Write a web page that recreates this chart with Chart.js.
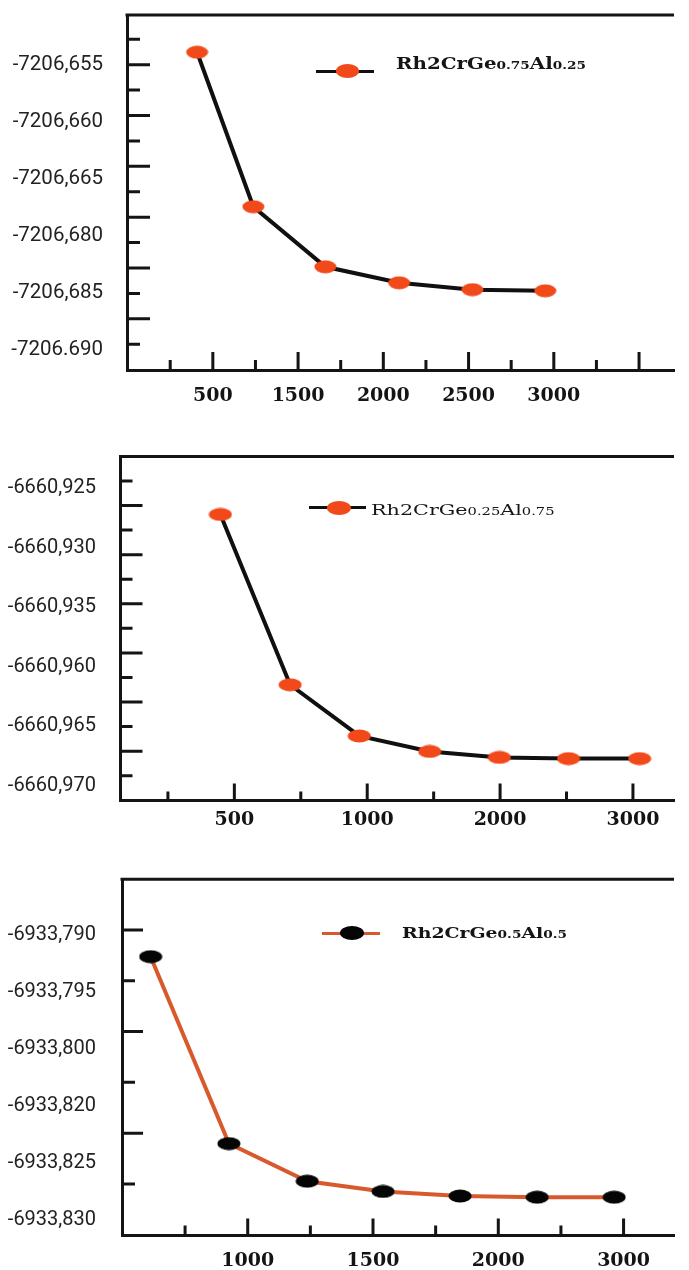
<!DOCTYPE html>
<html>
<head>
<meta charset="utf-8">
<title>Total energy convergence</title>
<script src="https://cdn.jsdelivr.net/npm/chart.js@4.4.1/dist/chart.umd.min.js"></script>
<style>
  html, body { margin: 0; padding: 0; background: #fff; }
  body { width: 689px; height: 1270px; position: relative; overflow: hidden; }
  .panel { position: absolute; left: 0; }
  .panel canvas { display: block; }
  .key { position: absolute; }
  .key .line { position: absolute; left: 0; right: 0; }
  .key .dot { position: absolute; border-radius: 50%; }
  .name { position: absolute; white-space: nowrap; line-height: 1; color: #151515;
          font-family: 'DejaVu Serif', serif; transform-origin: 0 0; }
</style>
</head>
<body>
<div class="panel" style="top:0px"><canvas id="c1" width="689" height="420"></canvas></div>
<div class="panel" style="top:430px"><canvas id="c2" width="689" height="410"></canvas></div>
<div class="panel" style="top:840px"><canvas id="c3" width="689" height="430"></canvas></div>

<script>
// ---------- data ----------
// Rh2CrGe0.75Al0.25
const p1Name = ['Rh2CrGe', '0.75', 'Al', '0.25'];
const p1YLabels = ['-7206,655', '-7206,660', '-7206,665', '-7206,680', '-7206,685', '-7206.690'];
const p1XLabels = ['500', '1500', '2000', '2500', '3000'];
const p1Pos = [0.63, 1.95, 3.64, 5.37, 7.09, 8.80];
const p1Energy = [-7206.6539, -7206.6723, -7206.6827, -7206.6841, -7206.6847, -7206.6848];

// Rh2CrGe0.25Al0.75
const p2Name = ['Rh2CrGe', '0.25', 'Al', '0.75'];
const p2YLabels = ['-6660,925', '-6660,930', '-6660,935', '-6660,960', '-6660,965', '-6660,970'];
const p2XLabels = ['500', '1000', '2000', '3000'];
const p2Pos = [0.79, 1.84, 2.88, 3.94, 4.99, 6.03, 7.10];
const p2Energy = [-6660.9272, -6660.9615, -6660.9658, -6660.9671, -6660.9676, -6660.9677, -6660.9677];

// Rh2CrGe0.5Al0.5
const p3Name = ['Rh2CrGe', '0.5', 'Al', '0.5'];
const p3YLabels = ['-6933,790', '-6933,795', '-6933,800', '-6933,820', '-6933,825', '-6933,830'];
const p3XLabels = ['1000', '1500', '2000', '3000'];
const p3Pos = [-0.55, 0.70, 1.95, 3.16, 4.39, 5.62, 6.85];
const p3Energy = [-6933.7919, -6933.8233, -6933.8266, -6933.8275, -6933.8279, -6933.8280, -6933.8280];

// ---------- helpers ----------
// the energy axis is labelled in uneven steps: place a value between its two neighbouring labels
function toSlot(e, levels) {
  let i = 0;
  while (i < levels.length - 2 && e < levels[i + 1]) i++;
  return i + (levels[i] - e) / (levels[i] - levels[i + 1]);
}

function ellipseDot(color, w, h) {
  const c = document.createElement('canvas');
  c.width = w; c.height = h;
  const g = c.getContext('2d');
  g.fillStyle = color;
  g.beginPath();
  g.ellipse(w / 2, h / 2, w / 2 - 0.5, h / 2 - 0.5, 0, 0, Math.PI * 2);
  g.fill();
  return c;
}

// top edge of the frame plus the inward tick marks on both axes
const frameTicks = {
  id: 'frameTicks',
  beforeDatasetsDraw(chart, args, o) {
    const { ctx, chartArea: a, scales: { x, y } } = chart;
    ctx.save();
    ctx.strokeStyle = '#141414';
    ctx.lineWidth = 3;
    ctx.beginPath();
    ctx.moveTo(a.left - 1.5, a.top);
    ctx.lineTo(a.right, a.top);
    ctx.stroke();

    ctx.lineWidth = 3;
    ctx.beginPath();
    for (let k = 0; k < o.yCount; k++) {
      const py = y.getPixelForValue(o.yStart + k * o.yStep);
      const len = (k % 2 === o.yLongParity) ? o.yLen[1] : o.yLen[0];
      ctx.moveTo(a.left, py);
      ctx.lineTo(a.left + len, py);
    }
    for (let i = 0; i < o.xCount; i++) {
      const px = x.getPixelForValue(i);
      const len = (i % 2 === 1) ? o.xLen[1] : o.xLen[0];
      ctx.moveTo(px, a.bottom);
      ctx.lineTo(px, a.bottom - len);
    }
    ctx.stroke();
    ctx.restore();
  }
};

// ---------- panels ----------
const panels = [
  { canvas: 'c1', name: p1Name, yLabels: p1YLabels, xLabels: p1XLabels, pos: p1Pos, energy: p1Energy,
    lineColor: '#101010', dotColor: '#F2491B', dotW: 23, dotH: 14,
    padTop: 13.3, yWidth: 127, xHeight: 50, yPad: 24, xPad: 15, yFont: 20.5,
    yRange: [-0.872, 5.348], xRange: [-1.014, 11.82],
    ticks: { yStart: -0.4465, yStep: 0.4453, yCount: 13, yLongParity: 1, yLen: [13, 23], xCount: 12, xLen: [10, 18] },
    legend: { keyLeft: 316, keyRight: 373.5, keyY: 71, dotX: 347, textLeft: 396, baseline: 69, width: 190, size: 16, small: 11, weight: 'bold' } },
  { canvas: 'c2', name: p2Name, yLabels: p2YLabels, xLabels: p2XLabels, pos: p2Pos, energy: p2Energy,
    lineColor: '#101010', dotColor: '#F2491B', dotW: 24, dotH: 14,
    padTop: 26.5, yWidth: 120.5, xHeight: 39.5, yPad: 24.5, xPad: 8, yFont: 20,
    yRange: [-0.534, 5.244], xRange: [-0.714, 7.618],
    ticks: { yStart: -0.1226, yStep: 0.4125, yCount: 13, yLongParity: 1, yLen: [12, 22], xCount: 8, xLen: [9, 17] },
    legend: { keyLeft: 309, keyRight: 366, keyY: 507.5, dotX: 338.5, textLeft: 371, baseline: 515, width: 183.5, size: 15.5, small: 11, weight: 'normal' } },
  { canvas: 'c3', name: p3Name, yLabels: p3YLabels, xLabels: p3XLabels, pos: p3Pos, energy: p3Energy,
    lineColor: '#D85A2C', dotColor: '#050505', dotW: 24, dotH: 14,
    padTop: 39.3, yWidth: 122, xHeight: 34.5, yPad: 26, xPad: 13.8, yFont: 20,
    yRange: [-0.977, 5.272], xRange: [-1.007, 7.805],
    ticks: { yStart: -0.0877, yStep: 0.891, yCount: 6, yLongParity: 0, yLen: [13, 21], xCount: 8, xLen: [10, 17] },
    legend: { keyLeft: 322, keyRight: 380, keyY: 933, dotX: 351.5, textLeft: 402, baseline: 937.5, width: 165, size: 14.5, small: 10.5, weight: 'bold' } }
];

function buildChart(p) {
  const levels = p.yLabels.map(s => parseFloat(s.replace(',', '.')));
  const points = p.pos.map((x, i) => ({ x, y: toSlot(p.energy[i], levels) }));
  const xLabelAt = p.xLabels.map((_, i) => 2 * i + 1);
  const dot = ellipseDot(p.dotColor, p.dotW, p.dotH);

  return new Chart(document.getElementById(p.canvas), {
    type: 'line',
    data: {
      datasets: [{
        label: p.name.join(''),
        data: points,
        borderColor: p.lineColor,
        borderWidth: 4,
        tension: 0,
        pointStyle: dot,
        pointRadius: 11,
        pointHoverRadius: 11,
        clip: false
      }]
    },
    options: {
      responsive: false,
      animation: false,
      devicePixelRatio: 1,
      layout: { padding: { top: p.padTop, left: 0, right: 0, bottom: 0 } },
      plugins: {
        legend: { display: false },
        tooltip: { enabled: false },
        frameTicks: p.ticks
      },
      scales: {
        x: {
          type: 'linear',
          min: p.xRange[0],
          max: p.xRange[1],
          afterBuildTicks: s => { s.ticks = xLabelAt.map(v => ({ value: v })); },
          afterFit: s => { s.height = p.xHeight; s.paddingLeft = 0; s.paddingRight = 0; },
          ticks: {
            autoSkip: false, maxRotation: 0, padding: p.xPad, color: '#141414',
            font: { family: "'DejaVu Serif', serif", size: 19, weight: 'bold' },
            callback: (v, i) => p.xLabels[i]
          },
          grid: { drawOnChartArea: false, drawTicks: false },
          border: { display: true, color: '#141414', width: 3 }
        },
        y: {
          type: 'linear',
          reverse: true,
          min: p.yRange[0],
          max: p.yRange[1],
          afterBuildTicks: s => { s.ticks = levels.map((_, i) => ({ value: i })); },
          afterFit: s => { s.width = p.yWidth; s.paddingTop = 0; s.paddingBottom = 0; },
          ticks: {
            autoSkip: false, padding: p.yPad, color: '#222',
            font: { family: "Roboto, sans-serif", size: p.yFont },
            callback: (v, i) => p.yLabels[i]
          },
          grid: { drawOnChartArea: false, drawTicks: false },
          border: { display: true, color: '#141414', width: 3 }
        }
      }
    },
    plugins: [frameTicks]
  });
}

// legend: key line with its marker, then the compound name with smaller stoichiometry numbers
function buildLegend(p) {
  const L = p.legend;
  const key = document.createElement('div');
  key.className = 'key';
  const h = 16;
  key.style.left = L.keyLeft + 'px';
  key.style.top = (L.keyY - h / 2) + 'px';
  key.style.width = (L.keyRight - L.keyLeft) + 'px';
  key.style.height = h + 'px';
  const line = document.createElement('div');
  line.className = 'line';
  line.style.top = (h / 2 - 1.5) + 'px';
  line.style.height = '3px';
  line.style.background = p.lineColor;
  const dot = document.createElement('div');
  dot.className = 'dot';
  dot.style.width = p.dotW + 'px';
  dot.style.height = p.dotH + 'px';
  dot.style.left = (L.dotX - L.keyLeft - p.dotW / 2) + 'px';
  dot.style.top = (h / 2 - p.dotH / 2) + 'px';
  dot.style.background = p.dotColor;
  key.appendChild(line);
  key.appendChild(dot);
  document.body.appendChild(key);

  const txt = document.createElement('div');
  txt.className = 'name';
  txt.style.fontSize = L.size + 'px';
  txt.style.fontWeight = L.weight;
  p.name.forEach((part, i) => {
    const s = document.createElement('span');
    s.textContent = part;
    if (i % 2 === 1) s.style.fontSize = L.small + 'px';
    txt.appendChild(s);
  });
  const probe = document.createElement('span');
  probe.style.cssText = 'display:inline-block;width:0;height:0;vertical-align:baseline';
  txt.appendChild(probe);
  document.body.appendChild(txt);

  const place = () => {
    txt.style.transform = 'none';
    txt.style.left = L.textLeft + 'px';
    txt.style.top = '0px';
    const base = probe.offsetTop;
    const w = txt.getBoundingClientRect().width;
    txt.style.top = (L.baseline - base) + 'px';
    txt.style.transform = 'scaleX(' + (L.width / w) + ')';
  };
  place();
  if (document.fonts && document.fonts.ready) document.fonts.ready.then(place);
}

panels.forEach(p => { buildChart(p); buildLegend(p); });
</script>
</body>
</html>
